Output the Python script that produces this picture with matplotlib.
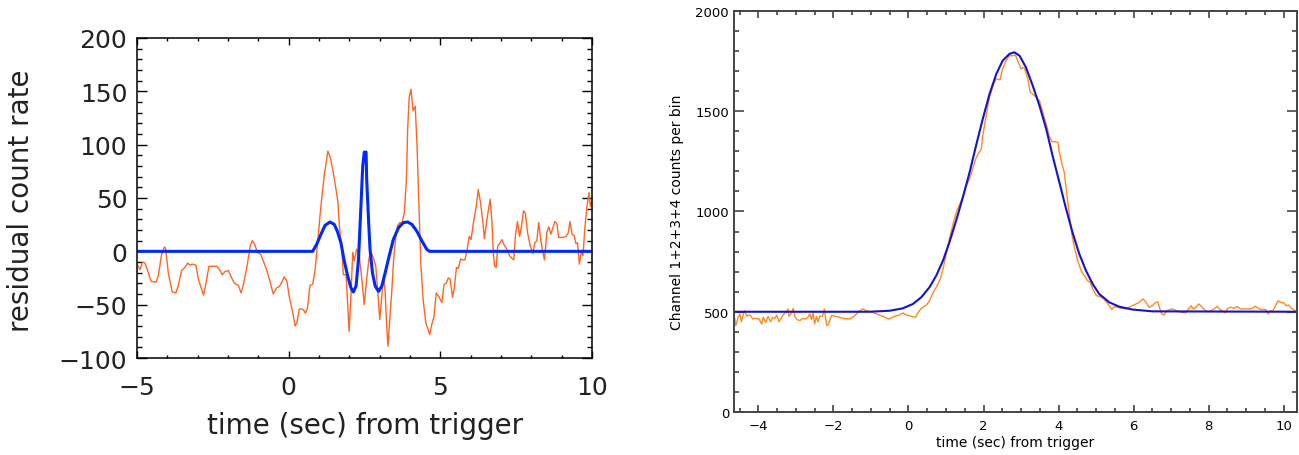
import numpy as np
import matplotlib
matplotlib.use("Agg")
import matplotlib.pyplot as plt
from matplotlib.ticker import MultipleLocator

# ---- left panel: residuals ----
t_res = [-4.98, -4.90, -4.82, -4.74, -4.65, -4.54, -4.38, -4.30, -4.19, -4.10,
         -4.06, -3.97, -3.84, -3.72, -3.64, -3.53, -3.42, -3.33, -3.25, -3.18,
         -3.06, -2.98, -2.81, -2.74, -2.63, -2.52, -2.37, -2.26, -2.19, -2.10,
         -1.99, -1.88, -1.79, -1.66, -1.57, -1.50, -1.38, -1.27, -1.20, -1.13,
         -1.03, -0.92, -0.84, -0.72, -0.61, -0.51, -0.39, -0.31, -0.23, -0.15,
         -0.06, 0.02, 0.13, 0.21, 0.27, 0.35, 0.43, 0.49, 0.55, 0.62,
         0.70, 0.79, 0.87, 0.96, 1.06, 1.17, 1.29, 1.36, 1.47, 1.56,
         1.62, 1.67, 1.75, 1.80, 1.89, 1.93, 1.99, 2.05, 2.11, 2.16,
         2.24, 2.32, 2.41, 2.49,
         2.57, 2.65, 2.72, 2.79, 2.87, 2.94, 3.00, 3.07, 3.13, 3.18,
         3.22, 3.27, 3.33, 3.40, 3.46, 3.53, 3.59, 3.66, 3.73, 3.81,
         3.88, 3.92, 3.97, 4.03, 4.10, 4.17, 4.23, 4.30, 4.36, 4.43,
         4.52, 4.58, 4.65, 4.72, 4.79, 4.86, 4.96, 5.05, 5.12, 5.19,
         5.26, 5.32, 5.40, 5.46, 5.53, 5.59, 5.67, 5.72, 5.81, 5.87,
         5.95, 6.01, 6.09, 6.18, 6.25, 6.32, 6.39,
         6.45, 6.55, 6.64, 6.70, 6.75, 6.79, 6.84, 6.89, 6.97, 7.03,
         7.10, 7.19, 7.28, 7.34, 7.42, 7.47, 7.54, 7.61, 7.67, 7.74,
         7.80, 7.87, 7.96, 8.05, 8.11, 8.18, 8.24, 8.31, 8.38, 8.43,
         8.51, 8.57, 8.64, 8.71, 8.77, 8.84, 8.90, 9.04, 9.14, 9.21,
         9.27, 9.34, 9.41, 9.47, 9.52, 9.58, 9.64, 9.70, 9.76, 9.83,
         9.90, 9.94, 9.98]
v_res = [-13, -17, -10, -11, -18, -28, -29, -23, -3, 4,
         3, -20, -38, -39, -32, -18, -15, -11, -13, -12,
         -13, -26, -41, -32, -14, -14, -14, -18, -22, -19,
         -18, -25, -30, -32, -39, -32, -15, 5, 10, 7,
         -1, -3, -9, -18, -29, -40, -34, -33, -29, -24,
         -28, -43, -57, -70, -67, -54, -54, -55, -58, -53,
         -32, -31, -17, 11, 42, 71, 94, 89, 74, 58,
         47, 24, 2, -22, -22, -42, -75, -42, -1, -9,
         2, -3, -26, -50,
         -26, -6, -1, -6, -14, -39, -64, -42, -22, -39,
         -64, -89, -64, -36, -7, 14, 24, 27, 26, 36,
         67, 114, 144, 152, 132, 136, 99, 36, -14, -45,
         -67, -72, -78, -68, -61, -39, -43, -48, -31, -30,
         -25, -26, -43, -34, -15, -16, -7, -8, -8, 0,
         14, 11, 27, 42, 58, 46, 30,
         12, 33, 49, 27, -4, -14, -15, 5, 8, 11,
         6, 2, -4, -6, -8, 14, 28, 14, 23, 38,
         36, 18, 5, -2, 8, 10, 27, 10, -1, -8,
         18, 23, 16, 22, 28, 26, 13, 13, 14, 17,
         28, 16, 15, 7, 8, -12, -1, -4, 21, 42,
         55, 42, 46]

t_fit = [-5.0, 0.79, 0.92, 1.06, 1.20, 1.36, 1.50, 1.60, 1.72, 1.82,
         1.93, 2.05, 2.13, 2.22, 2.30, 2.38, 2.44, 2.49, 2.55, 2.57,
         2.63, 2.68, 2.76, 2.85, 2.96, 3.07, 3.18, 3.31, 3.45, 3.62,
         3.78, 3.92, 4.06, 4.22, 4.39, 4.55, 4.64, 10.0]
v_fit = [0, 0, 6.6, 15.9, 24.4, 27.5, 25.3, 19, 8.1, -7.5,
         -21.6, -34.1, -38.1, -32.5, -7.5, 42.5, 80, 93, 93, 67.5,
         30, 1.9, -20, -32.5, -37.5, -32.5, -20, -4.4, 11.25, 22.2,
         26.9, 27.5, 25.3, 19, 9.7, 1.9, 0, 0]

# ---- right panel: counts ----
t_cnt = [-4.65, -4.60, -4.54, -4.49, -4.45, -4.40, -4.36, -4.31, -4.27, -4.21,
         -4.15, -4.09, -4.03, -3.99, -3.91, -3.87, -3.80, -3.74, -3.67, -3.62,
         -3.56, -3.51, -3.45, -3.38, -3.32, -3.25, -3.21, -3.18, -3.12, -3.07,
         -3.03, -2.97, -2.89, -2.82, -2.75, -2.68, -2.63, -2.58, -2.54, -2.50,
         -2.45, -2.41, -2.36, -2.29, -2.24, -2.18, -2.13, -2.05, -1.92, -1.74,
         -1.56, -1.43, -1.30, -1.21, -1.12, -0.99,
         -0.85, -0.68, -0.52, -0.37, -0.24, -0.15, -0.06, 0.08, 0.19, 0.25,
         0.34, 0.48, 0.56, 0.65, 0.74, 0.85, 0.92, 1.01, 1.09, 1.20,
         1.29, 1.41, 1.54, 1.63, 1.71, 1.79, 1.87, 1.94, 1.98, 2.07,
         2.16, 2.27, 2.34, 2.44, 2.51, 2.60, 2.69, 2.78,
         2.85, 2.91, 3.00, 3.06, 3.09, 3.18, 3.24, 3.31, 3.40, 3.49,
         3.58, 3.67, 3.75, 3.83, 3.91, 3.98, 4.02, 4.09, 4.15, 4.21,
         4.29, 4.36, 4.43, 4.51, 4.60, 4.69, 4.77, 4.84, 4.91, 5.01,
         5.08, 5.19, 5.28, 5.35, 5.42, 5.48, 5.57, 5.69, 5.79, 5.90,
         6.01, 6.15, 6.25, 6.33, 6.41,
         6.50, 6.57, 6.64, 6.70, 6.75, 6.81, 6.88, 6.96, 7.04, 7.14,
         7.26, 7.39, 7.46, 7.53, 7.59, 7.66, 7.73, 7.79, 7.88, 7.97,
         8.06, 8.14, 8.23, 8.30, 8.36, 8.44, 8.50, 8.59, 8.68, 8.76,
         8.85, 8.99, 9.12, 9.25, 9.34, 9.43, 9.52, 9.58, 9.65, 9.71,
         9.78, 9.85, 9.91, 10.00, 10.06, 10.13, 10.20, 10.26, 10.30]
v_cnt = [489, 431, 472, 489, 450, 489, 505, 477, 483, 483,
         464, 467, 464, 467, 439, 472, 447, 477, 450, 472,
         467, 483, 450, 472, 489, 500, 514, 477, 494, 517,
         477, 461, 456, 467, 464, 472, 489, 461, 494, 439,
         477, 450, 477, 477, 514, 431, 439, 481, 477, 467,
         464, 481, 505, 514, 505, 500,
         489, 477, 464, 477, 484, 494, 484, 477, 472, 494,
         517, 534, 555, 594, 622, 663, 713, 788, 863, 946,
         1004, 1054, 1129, 1162, 1212, 1262, 1292, 1312, 1378, 1478,
         1570, 1636, 1661, 1657, 1711, 1752, 1777, 1777,
         1780, 1752, 1711, 1719, 1714, 1661, 1598, 1586, 1570, 1553,
         1495, 1437, 1378, 1348, 1348, 1345, 1295, 1237, 1196, 1104,
         979, 880, 813, 755, 705, 680, 655, 647, 614, 580,
         577, 567, 547, 530, 511, 525, 522, 517, 514, 525,
         534, 547, 564, 547, 522,
         530, 544, 550, 514, 489, 484, 505, 511, 514, 505,
         497, 494, 514, 530, 514, 522, 539, 530, 511, 500,
         505, 514, 527, 511, 505, 494, 517, 522, 517, 527,
         514, 514, 514, 527, 514, 511, 511, 489, 505, 505,
         530, 555, 547, 544, 530, 534, 517, 511, 505]

t_model = [-4.65, -1.03, -0.50, -0.15, 0.12, 0.34, 0.56, 0.74, 0.92, 1.09,
           1.27, 1.45, 1.63, 1.80, 1.98, 2.16, 2.34, 2.51, 2.69, 2.82,
           2.96, 3.13, 3.31, 3.49, 3.67, 3.84, 4.02, 4.20, 4.37, 4.55,
           4.73, 4.91, 5.08, 5.35, 5.62, 5.97, 6.50, 10.35]
v_model = [500, 500, 505, 517, 539, 572, 622, 680, 755, 846,
           954, 1071, 1196, 1328, 1462, 1586, 1686, 1752, 1786, 1794,
           1777, 1719, 1628, 1528, 1412, 1278, 1146, 1013, 896, 789,
           705, 638, 589, 547, 525, 511, 502, 500]

fig = plt.figure(figsize=(12.99, 4.56), dpi=100)

# left axes
ax1 = fig.add_axes([0.1055, 0.2127, 0.3503, 0.7018])
ax1.plot(t_res, v_res, color='#ff6422', lw=1.0)
ax1.plot(t_fit, v_fit, color='#0028ff', lw=2.2)
ax1.set_xlim(-5, 10)
ax1.set_ylim(-100, 200)
ax1.xaxis.set_major_locator(MultipleLocator(5))
ax1.xaxis.set_minor_locator(MultipleLocator(1))
ax1.yaxis.set_major_locator(MultipleLocator(50))
ax1.yaxis.set_minor_locator(MultipleLocator(10))
ax1.tick_params(which='both', direction='in', top=True, right=True, color='black')
ax1.tick_params(axis='x', which='major', length=5, width=1, labelsize=18, pad=12,
                labelcolor='#222222')
ax1.tick_params(axis='x', which='minor', length=2.5, width=1)
ax1.tick_params(axis='y', which='major', length=7, width=1, labelsize=18, pad=7,
                labelcolor='#222222')
ax1.tick_params(axis='y', which='minor', length=3.5, width=1)
for s in ax1.spines.values():
    s.set_linewidth(1.1)
ax1.set_xlabel('time (sec) from trigger', fontsize=20, color='#222222')
ax1.set_ylabel('residual count rate', fontsize=20, color='#222222')
ax1.xaxis.set_label_coords(0.5, -0.165)
ax1.yaxis.set_label_coords(-0.225, 0.495)

# right axes
ax2 = fig.add_axes([0.5650, 0.0943, 0.4334, 0.8794])
ax2.plot(t_cnt, v_cnt, color='#ff8a1e', lw=1.0)
ax2.plot(t_model, v_model, color='#1414c8', lw=1.5)
ax2.set_xlim(-4.65, 10.35)
ax2.set_ylim(0, 2000)
ax2.xaxis.set_major_locator(MultipleLocator(2))
ax2.xaxis.set_minor_locator(MultipleLocator(0.5))
ax2.yaxis.set_major_locator(MultipleLocator(500))
ax2.yaxis.set_minor_locator(MultipleLocator(100))
ax2.tick_params(which='both', direction='in', top=True, right=True, color='#444444')
ax2.tick_params(axis='x', which='major', length=5, width=1.2, labelsize=9.5, pad=5)
ax2.tick_params(axis='x', which='minor', length=3, width=1.2)
ax2.tick_params(axis='y', which='major', length=7.5, width=1.2, labelsize=9.5, pad=3.5)
ax2.tick_params(axis='y', which='minor', length=3.5, width=1.2)
for s in ax2.spines.values():
    s.set_linewidth(1.4)
    s.set_color('#444444')
ax2.set_xlabel('time (sec) from trigger', fontsize=10)
ax2.set_ylabel('Channel 1+2+3+4 counts per bin', fontsize=10)
ax2.xaxis.set_label_coords(0.5, -0.058)
ax2.yaxis.set_label_coords(-0.088, 0.5)

fig.savefig('out.png', dpi=100)
